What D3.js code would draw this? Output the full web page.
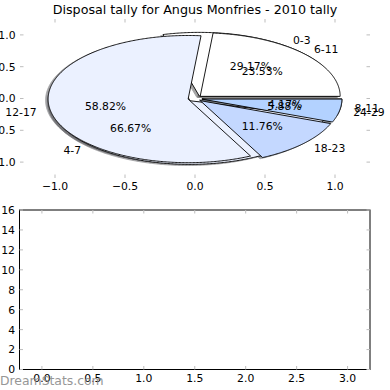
<!DOCTYPE html>
<html>
<head>
<meta charset="utf-8">
<script src="https://cdn.jsdelivr.net/npm/d3@7"></script>
<style>
  body { margin: 0; background: #fff; }
  svg { display: block; font-family: "DejaVu Sans", sans-serif; }
  .tick-label { font-size: 10.8px; fill: #000; }
  .pie-text { font-size: 10.8px; fill: #000; }
</style>
</head>
<body>
<svg id="chart"></svg>
<script>
/* SETUP */
var width = 390;
var height = 390;

/* DATA */
var title = "Disposal tally for Angus Monfries - 2010 tally";
var pie1Labels = ["0-3", "4-7", "8-11"];
var pie1Values = [7, 16, 1];
var pie2Labels = ["6-11", "12-17", "18-23", "24-29"];
var pie2Values = [4, 10, 2, 1];
var explode = 0.05;
var pieColors = ["#ffffff", "#ebf1ff", "#c4d8ff", "#b3d2ff"];
var pieTicks = [-1.0, -0.5, 0.0, 0.5, 1.0];
var pieLimits = [-1.25, 1.25];
var barXTicks = [0.0, 0.5, 1.0, 1.5, 2.0, 2.5, 3.0];
var barYTicks = [0, 2, 4, 6, 8, 10, 12, 14, 16];
var barXLimits = [-0.22, 3.22];
var barYLimits = [0, 16];
var watermark = "DreamStats.com";

var fmt1 = d3.format(".1f");
var pctFormat = d3.format(".2f");

var svg = d3.select("#chart")
  .attr("width", width)
  .attr("height", height);

svg.append("rect")
  .attr("width", width)
  .attr("height", height)
  .attr("fill", "#fff");

/* PIE AXES */
var pieBox = {left: 20, right: 370, top: 19, bottom: 178};
var px = d3.scaleLinear().domain(pieLimits).range([pieBox.left, pieBox.right]);
var py = d3.scaleLinear().domain(pieLimits).range([pieBox.bottom, pieBox.top]);

var plot = svg.append("g").attr("id", "pie-plot");
var shadowLayer = plot.append("g");
var wedgeLayer = plot.append("g");
var textLayer = plot.append("g");

var pies = [
  {labels: pie1Labels, values: pie1Values},
  {labels: pie2Labels, values: pie2Values}
];

pies.forEach(function(p) { drawPie(p.labels, p.values); });

function wedgePoints(cx, cy, a0, a1) {
  var pts = [[cx, cy]];
  var n = Math.max(8, Math.ceil((a1 - a0) / 0.01));
  for (var i = 0; i <= n; i++) {
    var t = a0 + (a1 - a0) * i / n;
    pts.push([cx + Math.cos(t), cy + Math.sin(t)]);
  }
  pts.push([cx, cy]);
  return pts;
}

function drawPie(labels, values) {
  var total = d3.sum(values);
  // angles measured counter-clockwise from the +x axis, as matplotlib does
  var arcs = d3.pie().sort(null).startAngle(0).endAngle(2 * Math.PI)(values);

  // shadow offset: -0.02 data units scaled by dpi/72
  var so = -0.02 * 65 / 72;

  arcs.forEach(function(a, i) {
    var mid = (a.startAngle + a.endAngle) / 2;
    var cx = explode * Math.cos(mid);
    var cy = explode * Math.sin(mid);
    var col = d3.rgb(pieColors[i % pieColors.length]);

    var line = d3.line()
      .x(d => px(d[0]))
      .y(d => py(d[1]));

    var shade = d3.rgb(col.r * 0.3, col.g * 0.3, col.b * 0.3);
    shadowLayer.append("path")
      .attr("d", d3.line().x(d => px(d[0] + so)).y(d => py(d[1] + so))(wedgePoints(cx, cy, a.startAngle, a.endAngle)))
      .attr("fill", shade)
      .attr("stroke", shade)
      .attr("stroke-width", 0.9)
      .attr("opacity", 0.5);

    wedgeLayer.append("path")
      .attr("d", line(wedgePoints(cx, cy, a.startAngle, a.endAngle)) + "Z")
      .attr("fill", col)
      .attr("stroke", "#000")
      .attr("stroke-width", 0.9)
      .attr("stroke-linejoin", "miter");

    var lx = cx + 1.1 * Math.cos(mid);
    var ly = cy + 1.1 * Math.sin(mid);
    textLayer.append("text")
      .attr("class", "pie-text")
      .attr("x", px(lx))
      .attr("y", py(ly))
      .attr("dy", "0.36em")
      .attr("text-anchor", lx > 0 ? "start" : "end")
      .text(labels[i]);

    var tx = cx + 0.6 * Math.cos(mid);
    var ty = cy + 0.6 * Math.sin(mid);
    textLayer.append("text")
      .attr("class", "pie-text")
      .attr("x", px(tx))
      .attr("y", py(ty))
      .attr("dy", "0.36em")
      .attr("text-anchor", "middle")
      .text(pctFormat(a.data / total * 100) + "%");
  });
}

drawTicks(svg.append("g"), px, py, pieTicks, pieTicks, pieBox, fmt1, fmt1, false);

/* TITLE */
svg.append("text")
  .attr("x", (pieBox.left + pieBox.right) / 2)
  .attr("y", 14)
  .attr("text-anchor", "middle")
  .style("font-size", "12.7px")
  .text(title);

/* EMPTY BOTTOM AXES */
var barBox = {left: 19.5, right: 370, top: 210, bottom: 369.5};
var bx = d3.scaleLinear().domain(barXLimits).range([barBox.left, barBox.right]);
var by = d3.scaleLinear().domain(barYLimits).range([barBox.bottom, barBox.top]);

drawTicks(svg.append("g"), bx, by, barXTicks, barYTicks, barBox, fmt1, d3.format("d"), true);

/* WATERMARK */
svg.append("text")
  .attr("x", 0)
  .attr("y", 385)
  .style("font-size", "12.4px")
  .attr("fill", "#8c8c8c")
  .attr("opacity", 0.9)
  .text(watermark);

/* TICKS AND FRAME */
function drawTicks(g, xs, ys, xt, yt, box, xf, yf, frame) {
  var tickLen = 3.5;
  var tickColor = "#bdbdbd";

  if (frame) {
    g.append("rect")
      .attr("x", box.left)
      .attr("y", box.top)
      .attr("width", box.right - box.left)
      .attr("height", box.bottom - box.top)
      .attr("fill", "none")
      .attr("stroke", "#000")
      .attr("stroke-width", 1);
  }

  xt.forEach(function(v) {
    var x = xs(v);
    g.append("line")
      .attr("x1", x).attr("x2", x)
      .attr("y1", box.bottom).attr("y2", box.bottom - tickLen)
      .attr("stroke", tickColor);
    g.append("line")
      .attr("x1", x).attr("x2", x)
      .attr("y1", box.top).attr("y2", box.top + tickLen)
      .attr("stroke", tickColor);
    g.append("text")
      .attr("class", "tick-label")
      .attr("x", x)
      .attr("y", box.bottom + 12)
      .attr("text-anchor", "middle")
      .text(xf(v));
  });

  yt.forEach(function(v) {
    var y = ys(v);
    g.append("line")
      .attr("x1", box.left).attr("x2", box.left + tickLen)
      .attr("y1", y).attr("y2", y)
      .attr("stroke", tickColor);
    g.append("line")
      .attr("x1", box.right).attr("x2", box.right - tickLen)
      .attr("y1", y).attr("y2", y)
      .attr("stroke", tickColor);
    g.append("text")
      .attr("class", "tick-label")
      .attr("x", box.left - 4.5)
      .attr("y", y)
      .attr("dy", "0.36em")
      .attr("text-anchor", "end")
      .text(yf(v));
  });
}
</script>
</body>
</html>
